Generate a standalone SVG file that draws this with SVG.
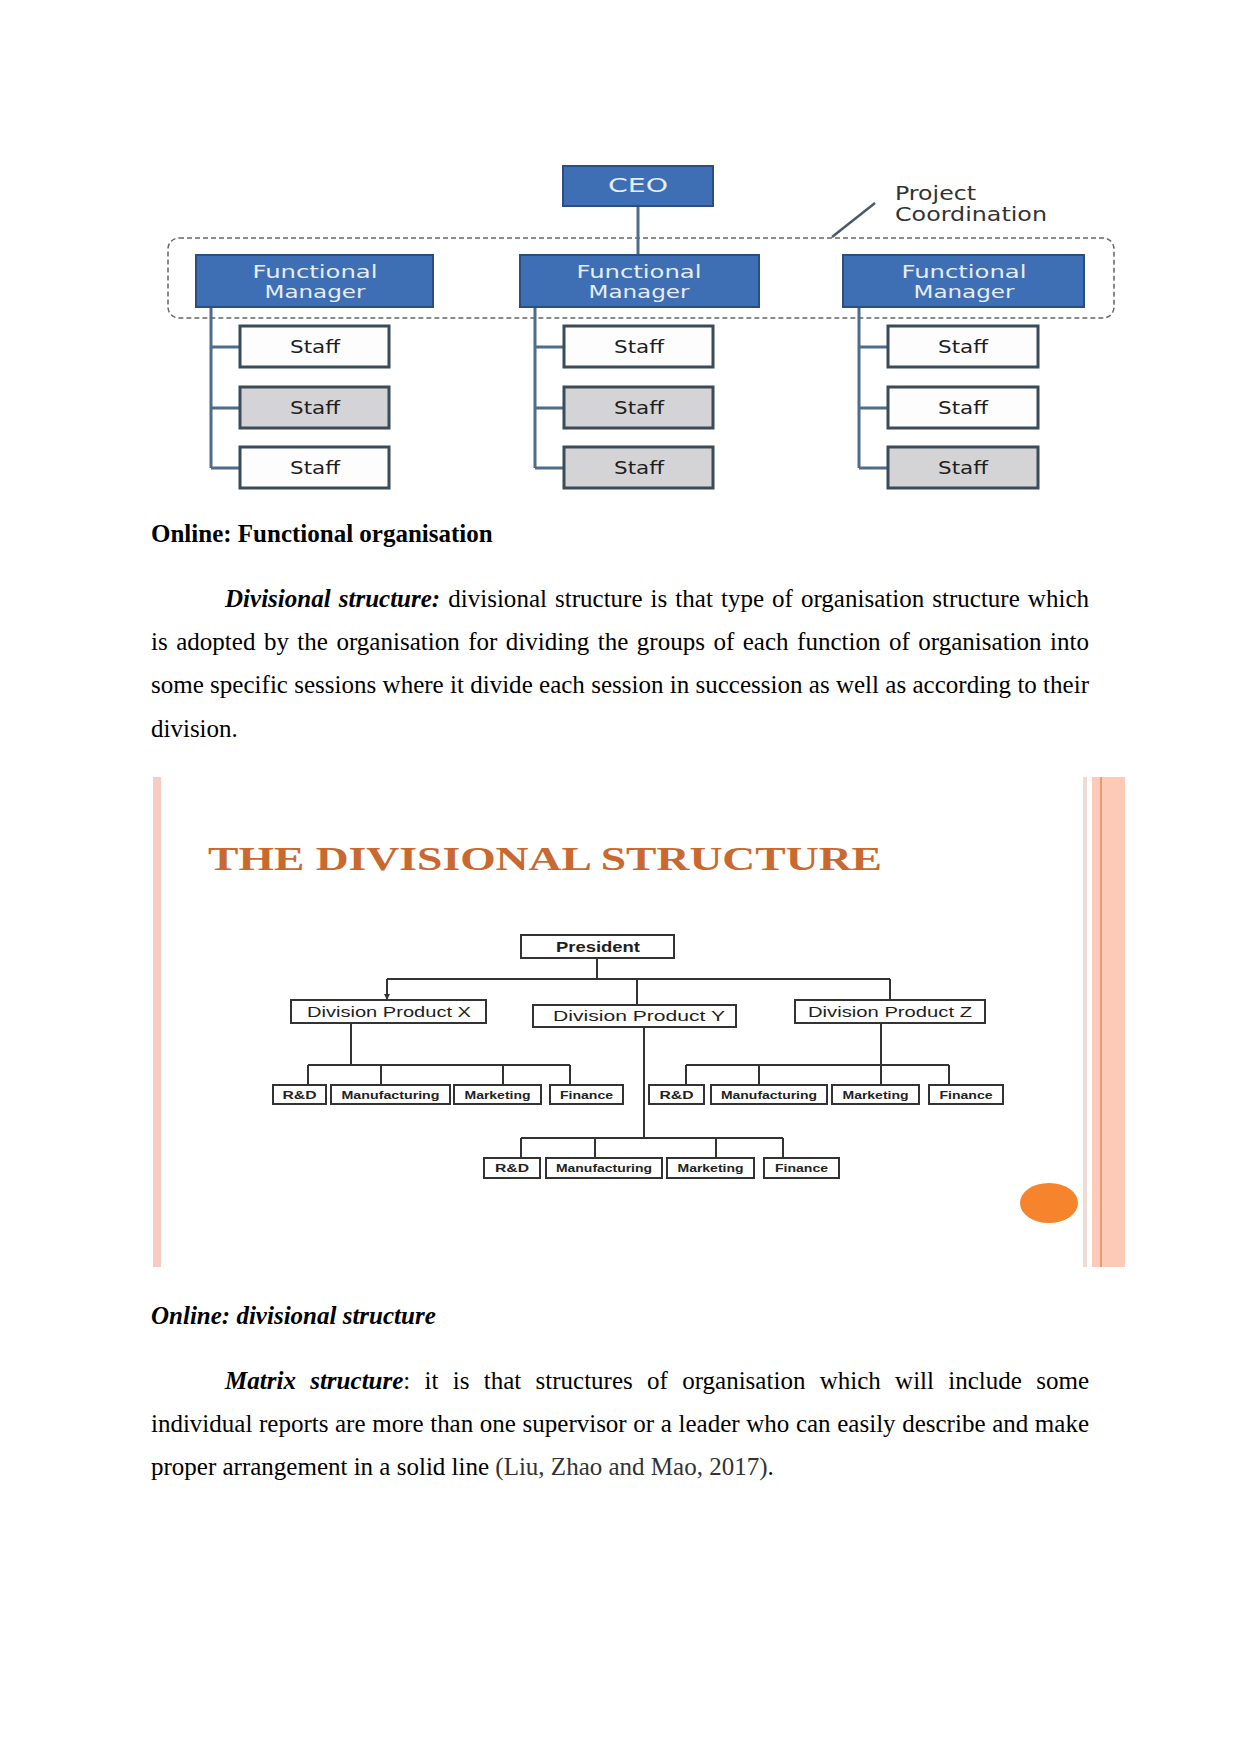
<svg xmlns="http://www.w3.org/2000/svg" width="1241" height="1754" viewBox="0 0 1241 1754">
  <defs>
    <style>
      .fm { fill: #3e6eb4; stroke: #2b4d80; stroke-width: 2; }
      .fmt { font-family: "DejaVu Sans", "Liberation Sans", sans-serif; font-size: 18px; fill: #e6edf8; text-anchor: middle; }
      .staff { stroke: #3b4b58; stroke-width: 3; }
      .w { fill: #fdfdfd; }
      .g { fill: #d4d4d6; }
      .st { font-family: "DejaVu Sans", "Liberation Sans", sans-serif; font-size: 18px; fill: #1e1e1e; text-anchor: middle; }
      .fc { stroke: #4f6d8a; stroke-width: 3; fill: none; }
      .db { fill: #ffffff; stroke: #333333; stroke-width: 2; }
      .dt { font-family: "Liberation Sans", Arial, sans-serif; font-size: 14px; fill: #1e1e1e; text-anchor: middle; }
      .sb { fill: #ffffff; stroke: #333333; stroke-width: 2; }
      .sbt { font-family: "Liberation Sans", Arial, sans-serif; font-size: 10px; font-weight: bold; fill: #222222; text-anchor: middle; }
      .dc { stroke: #333333; stroke-width: 2; fill: none; }
      .body { font-family: "Liberation Serif", "Times New Roman", serif; font-size: 25px; fill: #000000; }
      .bi { font-weight: bold; font-style: italic; }
    </style>
    <marker id="arr" viewBox="0 0 6 6" refX="5" refY="3" markerWidth="6" markerHeight="6" markerUnits="userSpaceOnUse" orient="auto">
      <path d="M0,0 L6,3 L0,6 Z" fill="#333333"/>
    </marker>
  </defs>

  <rect x="0" y="0" width="1241" height="1754" fill="#ffffff"/>

  <!-- ===== Functional organisation chart ===== -->
  <g id="project-coordination">
    <rect x="168" y="238" width="946" height="80" rx="11" ry="11" fill="none" stroke="#666666" stroke-width="1.5" stroke-dasharray="5 3"/>
    <text x="895" y="200" font-family="DejaVu Sans, Liberation Sans, sans-serif" font-size="19" fill="#333333" textLength="81" lengthAdjust="spacingAndGlyphs">Project</text>
    <text x="895" y="221" font-family="DejaVu Sans, Liberation Sans, sans-serif" font-size="19" fill="#333333" textLength="152" lengthAdjust="spacingAndGlyphs">Coordination</text>
  </g>

  <g id="functional-connectors">
    <line class="fc" x1="638" y1="206" x2="638" y2="255"/>
    <path class="fc" d="M211,307 V468 M211,347 H240 M211,408 H240 M211,468 H240"/>
    <path class="fc" d="M535,307 V468 M535,347 H564 M535,408 H564 M535,468 H564"/>
    <path class="fc" d="M859,307 V468 M859,347 H888 M859,408 H888 M859,468 H888"/>
    <line x1="832" y1="237" x2="875" y2="203" stroke="#4a5a6a" stroke-width="2.5"/>
  </g>

  <g id="ceo">
    <rect class="fm" x="563" y="166" width="150" height="40"/>
    <text x="638" y="192" font-family="DejaVu Sans, Liberation Sans, sans-serif" font-size="20" fill="#e6edf8" text-anchor="middle" textLength="60" lengthAdjust="spacingAndGlyphs">CEO</text>
  </g>

  <g id="fm1">
    <rect class="fm" x="196" y="255" width="237" height="52"/>
    <text class="fmt" x="315" y="278" textLength="125" lengthAdjust="spacingAndGlyphs">Functional</text>
    <text class="fmt" x="315" y="298" textLength="101" lengthAdjust="spacingAndGlyphs">Manager</text>
  </g>
  <g id="fm2">
    <rect class="fm" x="520" y="255" width="239" height="52"/>
    <text class="fmt" x="639" y="278" textLength="125" lengthAdjust="spacingAndGlyphs">Functional</text>
    <text class="fmt" x="639" y="298" textLength="101" lengthAdjust="spacingAndGlyphs">Manager</text>
  </g>
  <g id="fm3">
    <rect class="fm" x="843" y="255" width="241" height="52"/>
    <text class="fmt" x="964" y="278" textLength="125" lengthAdjust="spacingAndGlyphs">Functional</text>
    <text class="fmt" x="964" y="298" textLength="101" lengthAdjust="spacingAndGlyphs">Manager</text>
  </g>

  <g id="staff-1-1"><rect class="staff w" x="240" y="326" width="149" height="41"/><text class="st" x="315" y="353" textLength="50" lengthAdjust="spacingAndGlyphs">Staff</text></g>
  <g id="staff-1-2"><rect class="staff g" x="240" y="387" width="149" height="41"/><text class="st" x="315" y="414" textLength="50" lengthAdjust="spacingAndGlyphs">Staff</text></g>
  <g id="staff-1-3"><rect class="staff w" x="240" y="447" width="149" height="41"/><text class="st" x="315" y="474" textLength="50" lengthAdjust="spacingAndGlyphs">Staff</text></g>

  <g id="staff-2-1"><rect class="staff w" x="564" y="326" width="149" height="41"/><text class="st" x="639" y="353" textLength="50" lengthAdjust="spacingAndGlyphs">Staff</text></g>
  <g id="staff-2-2"><rect class="staff g" x="564" y="387" width="149" height="41"/><text class="st" x="639" y="414" textLength="50" lengthAdjust="spacingAndGlyphs">Staff</text></g>
  <g id="staff-2-3"><rect class="staff g" x="564" y="447" width="149" height="41"/><text class="st" x="639" y="474" textLength="50" lengthAdjust="spacingAndGlyphs">Staff</text></g>

  <g id="staff-3-1"><rect class="staff w" x="888" y="326" width="150" height="41"/><text class="st" x="963" y="353" textLength="50" lengthAdjust="spacingAndGlyphs">Staff</text></g>
  <g id="staff-3-2"><rect class="staff w" x="888" y="387" width="150" height="41"/><text class="st" x="963" y="414" textLength="50" lengthAdjust="spacingAndGlyphs">Staff</text></g>
  <g id="staff-3-3"><rect class="staff g" x="888" y="447" width="150" height="41"/><text class="st" x="963" y="474" textLength="50" lengthAdjust="spacingAndGlyphs">Staff</text></g>

  <!-- ===== Body text 1 ===== -->
  <text class="body" x="151" y="542" font-weight="bold">Online: Functional organisation</text>
  <text class="body" x="225" y="607" textLength="864" lengthAdjust="spacing" style="word-spacing:1.8px"><tspan class="bi">Divisional structure:</tspan> divisional structure is that type of organisation structure which</text>
  <text class="body" x="151" y="650" textLength="938" lengthAdjust="spacing" style="word-spacing:2.2px">is adopted by the organisation for dividing the groups of each function of organisation into</text>
  <text class="body" x="151" y="693" textLength="938" lengthAdjust="spacing">some specific sessions where it divide each session in succession as well as according to their</text>
  <text class="body" x="151" y="737">division.</text>

  <!-- ===== Divisional structure slide ===== -->
  <g id="slide-frame">
    <rect x="153" y="777" width="972" height="490" fill="#ffffff"/>
    <rect x="153" y="777" width="8" height="490" fill="#f6cbc3"/>
    <rect x="1083" y="777" width="4" height="490" fill="#eedad6"/>
    <rect x="1092" y="777" width="33" height="490" fill="#fccab6"/>
    <rect x="1100" y="777" width="2" height="490" fill="#e59b78"/>
    <ellipse cx="1049" cy="1203" rx="29" ry="20" fill="#f5842c"/>
    <text x="208" y="870" font-family="Liberation Serif, Times New Roman, serif" font-size="33" font-weight="bold" fill="#c9692f" textLength="674" lengthAdjust="spacingAndGlyphs">THE DIVISIONAL STRUCTURE</text>
  </g>

  <g id="divisional-connectors">
    <path class="dc" d="M597,958 V979 M387,979 H890 M637,979 V1005 M890,979 V1000"/>
    <line class="dc" x1="387" y1="979" x2="387" y2="999" marker-end="url(#arr)"/>
    <path class="dc" d="M351,1023 V1065 M308,1065 H570 M308,1065 V1085 M381,1065 V1085 M503,1065 V1085 M570,1065 V1085"/>
    <path class="dc" d="M881,1023 V1085 M686,1065 H949 M686,1065 V1085 M759,1065 V1085 M949,1065 V1085"/>
    <path class="dc" d="M644,1027 V1138 M521,1138 H783 M521,1138 V1158 M595,1138 V1158 M716,1138 V1158 M783,1138 V1158"/>
  </g>

  <g id="president">
    <rect class="db" x="521" y="935" width="153" height="23"/>
    <text class="dt" x="598" y="952" font-weight="bold" font-size="13" textLength="84" lengthAdjust="spacingAndGlyphs">President</text>
  </g>
  <g id="division-x">
    <rect class="db" x="291" y="1000" width="195" height="23"/>
    <text class="dt" x="389" y="1017" textLength="164" lengthAdjust="spacingAndGlyphs">Division Product X</text>
  </g>
  <g id="division-y">
    <rect class="db" x="533" y="1005" width="203" height="22"/>
    <text class="dt" x="639" y="1021" textLength="172" lengthAdjust="spacingAndGlyphs">Division Product Y</text>
  </g>
  <g id="division-z">
    <rect class="db" x="795" y="1000" width="190" height="23"/>
    <text class="dt" x="890" y="1017" textLength="164" lengthAdjust="spacingAndGlyphs">Division Product Z</text>
  </g>

  <g id="x-rd"><rect class="sb" x="273" y="1085" width="53" height="19"/><text class="sbt" x="299.5" y="1099" font-weight="normal" font-size="11" textLength="34" lengthAdjust="spacingAndGlyphs">R&amp;D</text></g>
  <g id="x-manufacturing"><rect class="sb" x="331" y="1085" width="119" height="19"/><text class="sbt" x="390.5" y="1099" textLength="98" lengthAdjust="spacingAndGlyphs">Manufacturing</text></g>
  <g id="x-marketing"><rect class="sb" x="454" y="1085" width="87" height="19"/><text class="sbt" x="497.5" y="1099" textLength="66" lengthAdjust="spacingAndGlyphs">Marketing</text></g>
  <g id="x-finance"><rect class="sb" x="550" y="1085" width="73" height="19"/><text class="sbt" x="586.5" y="1099" textLength="53" lengthAdjust="spacingAndGlyphs">Finance</text></g>

  <g id="z-rd"><rect class="sb" x="649" y="1085" width="55" height="19"/><text class="sbt" x="676.5" y="1099" font-weight="normal" font-size="11" textLength="34" lengthAdjust="spacingAndGlyphs">R&amp;D</text></g>
  <g id="z-manufacturing"><rect class="sb" x="711" y="1085" width="116" height="19"/><text class="sbt" x="769" y="1099" textLength="96" lengthAdjust="spacingAndGlyphs">Manufacturing</text></g>
  <g id="z-marketing"><rect class="sb" x="832" y="1085" width="87" height="19"/><text class="sbt" x="875.5" y="1099" textLength="66" lengthAdjust="spacingAndGlyphs">Marketing</text></g>
  <g id="z-finance"><rect class="sb" x="929" y="1085" width="74" height="19"/><text class="sbt" x="966" y="1099" textLength="53" lengthAdjust="spacingAndGlyphs">Finance</text></g>

  <g id="y-rd"><rect class="sb" x="484" y="1158" width="56" height="20"/><text class="sbt" x="512" y="1172" font-weight="normal" font-size="11" textLength="34" lengthAdjust="spacingAndGlyphs">R&amp;D</text></g>
  <g id="y-manufacturing"><rect class="sb" x="546" y="1158" width="116" height="20"/><text class="sbt" x="604" y="1172" textLength="96" lengthAdjust="spacingAndGlyphs">Manufacturing</text></g>
  <g id="y-marketing"><rect class="sb" x="667" y="1158" width="87" height="20"/><text class="sbt" x="710.5" y="1172" textLength="66" lengthAdjust="spacingAndGlyphs">Marketing</text></g>
  <g id="y-finance"><rect class="sb" x="764" y="1158" width="75" height="20"/><text class="sbt" x="801.5" y="1172" textLength="53" lengthAdjust="spacingAndGlyphs">Finance</text></g>

  <!-- ===== Body text 2 ===== -->
  <text class="body bi" x="151" y="1324">Online: divisional structure</text>
  <text class="body" x="225" y="1389" textLength="864" lengthAdjust="spacing" style="word-spacing:8px"><tspan class="bi">Matrix structure</tspan>: it is that structures of organisation which will include some</text>
  <text class="body" x="151" y="1432" textLength="938" lengthAdjust="spacing" style="word-spacing:0.4px">individual reports are more than one supervisor or a leader who can easily describe and make</text>
  <text class="body" x="151" y="1475">proper arrangement in a solid line <tspan fill="#333333">(Liu, Zhao and Mao, 2017)</tspan>.</text>
</svg>
